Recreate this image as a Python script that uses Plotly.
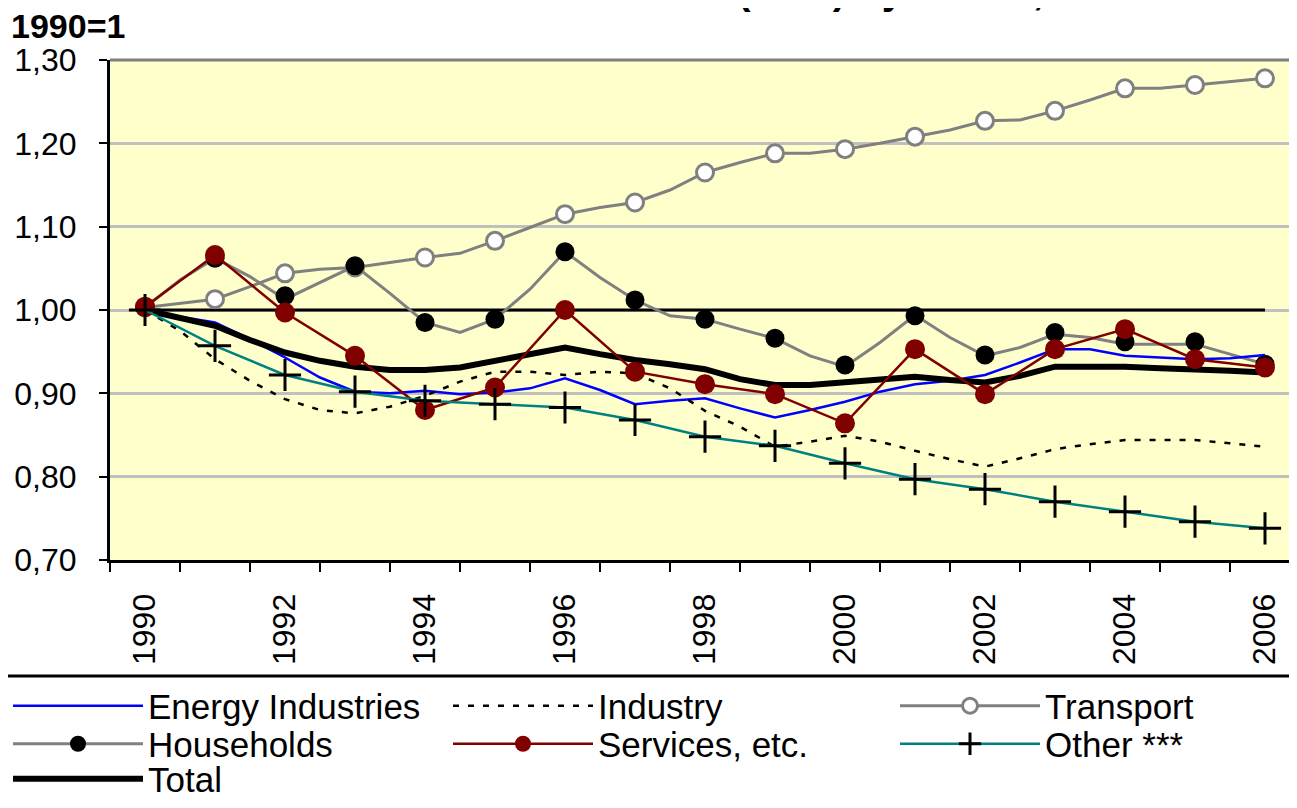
import plotly.graph_objects as go

# ---------------- data ----------------
years = [1990, 1991, 1992, 1993, 1994, 1995, 1996, 1997, 1998, 1999,
         2000, 2001, 2002, 2003, 2004, 2005, 2006]
half_years = [1990.0, 1990.5, 1991.0, 1991.5, 1992.0, 1992.5, 1993.0, 1993.5,
              1994.0, 1994.5, 1995.0, 1995.5, 1996.0, 1996.5, 1997.0, 1997.5,
              1998.0, 1998.5, 1999.0, 1999.5, 2000.0, 2000.5, 2001.0, 2001.5,
              2002.0, 2002.5, 2003.0, 2003.5, 2004.0, 2004.5, 2005.0, 2005.5,
              2006.0]
tick_years = [1990, 1992, 1994, 1996, 1998, 2000, 2002, 2004, 2006]
tick_labels = ["1990", "1992", "1994", "1996", "1998", "2000", "2002", "2004", "2006"]

baseline = [1.00, 1.00, 1.00, 1.00, 1.00, 1.00, 1.00, 1.00, 1.00,
            1.00, 1.00, 1.00, 1.00, 1.00, 1.00, 1.00, 1.00]

energy_line = [1.000, 0.992, 0.985, 0.965, 0.943, 0.919, 0.902, 0.900, 0.903, 0.899,
               0.901, 0.906, 0.918, 0.904, 0.887, 0.891, 0.894, 0.882, 0.871, 0.880,
               0.890, 0.902, 0.911, 0.915, 0.922, 0.937, 0.953, 0.953, 0.945, 0.943,
               0.941, 0.942, 0.946]
industry_line = [1.000, 0.975, 0.941, 0.915, 0.893, 0.880, 0.876, 0.884, 0.897, 0.914,
                 0.926, 0.926, 0.922, 0.926, 0.924, 0.906, 0.879, 0.860, 0.836, 0.842,
                 0.849, 0.842, 0.831, 0.821, 0.812, 0.822, 0.833, 0.839, 0.844, 0.844,
                 0.844, 0.840, 0.836]
transport_line = [1.003, 1.008, 1.013, 1.028, 1.044, 1.049, 1.051, 1.057, 1.063, 1.068,
                  1.083, 1.099, 1.115, 1.123, 1.129, 1.144, 1.165, 1.177, 1.188, 1.188,
                  1.193, 1.200, 1.208, 1.216, 1.227, 1.228, 1.239, 1.252, 1.266, 1.266,
                  1.270, 1.274, 1.278]
transport_pts = [1.003, 1.013, 1.044, 1.051, 1.063, 1.083, 1.115, 1.129, 1.165, 1.188,
                 1.193, 1.208, 1.227, 1.239, 1.266, 1.270, 1.278]
households_line = [1.003, 1.036, 1.062, 1.040, 1.013, 1.033, 1.053, 1.020, 0.985, 0.973,
                   0.989, 1.025, 1.070, 1.039, 1.012, 0.993, 0.989, 0.977, 0.966, 0.945,
                   0.932, 0.961, 0.994, 0.967, 0.945, 0.955, 0.971, 0.967, 0.959, 0.959,
                   0.959, 0.947, 0.935]
households_pts = [1.003, 1.062, 1.017, 1.053, 0.985, 0.989, 1.070, 1.012, 0.989, 0.966,
                  0.934, 0.993, 0.946, 0.973, 0.962, 0.962, 0.935]
services = [1.004, 1.066, 0.997, 0.945, 0.880, 0.907, 1.000, 0.926, 0.911, 0.899,
            0.864, 0.953, 0.899, 0.953, 0.977, 0.941, 0.931]
other = [1.000, 0.957, 0.922, 0.902, 0.891, 0.887, 0.883, 0.868, 0.848, 0.837,
         0.816, 0.797, 0.785, 0.770, 0.758, 0.746, 0.738]
total_line = [1.000, 0.991, 0.981, 0.964, 0.949, 0.939, 0.932, 0.928, 0.928, 0.931,
              0.939, 0.947, 0.955, 0.947, 0.940, 0.935, 0.929, 0.917, 0.910, 0.910,
              0.913, 0.917, 0.920, 0.916, 0.913, 0.921, 0.932, 0.932, 0.932, 0.930,
              0.929, 0.927, 0.925]

# ---------------- geometry (page pixels) ----------------
FONT = "Liberation Sans, Arial, sans-serif"
OFF = 8                     # default body margin of the html page
PAGE_W, PAGE_H = 1297, 808
W, H = PAGE_W - OFF, PAGE_H - OFF
PLOT_L, PLOT_T, PLOT_B = 110, 60, 560
ML, MT, MR = PLOT_L - OFF, PLOT_T - OFF, 0
PW = W - ML - MR
PH = PLOT_B - PLOT_T
MB = H - MT - PH
PX_PER_YEAR = 70.0


def paper_x(px):
    return (px - PLOT_L) / PW


def paper_y(py):
    return (PLOT_B - py) / PH


def cont_y(py):
    return 1 - (py - OFF) / H


BLUE = "#0000FF"
GRAY = "#808080"
DARKRED = "#800000"
TEAL = "#008080"

fig = go.Figure()

# 1990 = 1 reference line
fig.add_trace(go.Scatter(x=years, y=baseline, mode="lines",
                         line=dict(color="black", width=3), showlegend=False))

# Transport
fig.add_trace(go.Scatter(x=half_years, y=transport_line, mode="lines",
                         line=dict(color=GRAY, width=3), showlegend=False))
fig.add_trace(go.Scatter(x=years, y=transport_pts, mode="markers",
                         marker=dict(color="white", size=17, line=dict(color=GRAY, width=3)),
                         showlegend=False))
# Households
fig.add_trace(go.Scatter(x=half_years, y=households_line, mode="lines",
                         line=dict(color=GRAY, width=3), showlegend=False))
fig.add_trace(go.Scatter(x=years, y=households_pts, mode="markers",
                         marker=dict(color="black", size=19), showlegend=False))
# Energy industries
fig.add_trace(go.Scatter(x=half_years, y=energy_line, mode="lines", name="Energy Industries",
                         line=dict(color=BLUE, width=2.5), legend="legend"))
# Industry
fig.add_trace(go.Scatter(x=half_years, y=industry_line, mode="lines", name="Industry",
                         line=dict(color="black", width=2.5, dash="6px,9px"), legend="legend2"))
# Total
fig.add_trace(go.Scatter(x=half_years, y=total_line, mode="lines", name="Total",
                         line=dict(color="black", width=6), legend="legend7"))
# Services
fig.add_trace(go.Scatter(x=years, y=services, mode="lines+markers", name="Services, etc.",
                         line=dict(color=DARKRED, width=2.5),
                         marker=dict(color=DARKRED, size=20), legend="legend5"))
# Other
fig.add_trace(go.Scatter(x=years, y=other, mode="lines+markers", name="Other ***",
                         line=dict(color=TEAL, width=2.5),
                         marker=dict(symbol="cross-thin", size=23, color="black",
                                     line=dict(color="black", width=3)),
                         legend="legend6"))

# legend entries for the two series drawn as line + separate markers
fig.add_trace(go.Scatter(x=[None], y=[None], mode="lines+markers", name="Transport",
                         line=dict(color=GRAY, width=3),
                         marker=dict(color="white", size=15, line=dict(color=GRAY, width=3)),
                         legend="legend3"))
fig.add_trace(go.Scatter(x=[None], y=[None], mode="lines+markers", name="Households",
                         line=dict(color=GRAY, width=3),
                         marker=dict(color="black", size=16),
                         legend="legend4"))

# ---------------- layout ----------------
LEG_FONT = dict(family=FONT, size=35, color="black")
text_x = [148, 598, 1045]
row_y = [706, 744, 779]


def leg(col, ry):
    if col == 0:
        itemw, lx = 130, 0                      # flush with the left edge
    else:
        itemw = 140
        lx = text_x[col] - itemw - 10 - OFF     # label starts at text_x
    return dict(x=lx / W, xref="container", xanchor="left",
                y=cont_y(ry), yref="container", yanchor="middle",
                orientation="h", font=LEG_FONT, itemwidth=itemw,
                bgcolor="rgba(0,0,0,0)", borderwidth=0, itemclick=False)


fig.update_layout(
    width=W, height=H,
    margin=dict(l=ML, r=MR, t=MT, b=MB, pad=0),
    paper_bgcolor="white",
    plot_bgcolor="#FFFFCC",
    separators=", ",
    font=dict(family=FONT, color="black"),
    xaxis=dict(
        type="linear",
        range=[1989.5, 1989.5 + PW / PX_PER_YEAR],
        tickmode="array", tickvals=tick_years, ticktext=tick_labels,
        tickangle=-90, ticks="", showgrid=False, zeroline=False,
        showline=True, linecolor="black", linewidth=3,
        tickfont=dict(family=FONT, size=32, color="black"),
        ticklabelstandoff=18,
        minor=dict(ticks="outside", tickvals=[1989.5 + i for i in range(18)],
                   ticklen=9, tickwidth=2, tickcolor="black", showgrid=False),
    ),
    yaxis=dict(
        range=[0.70, 1.30], dtick=0.10, tick0=0.70, tickformat=".2f",
        showgrid=True, gridcolor="#C0C0C0", gridwidth=3, zeroline=False,
        showline=True, linecolor="black", linewidth=3,
        ticks="outside", ticklen=8, tickwidth=2, tickcolor="black",
        tickfont=dict(family=FONT, size=32, color="black"),
        ticklabelstandoff=16,
    ),
    legend=leg(0, row_y[0]),
    legend2=leg(1, row_y[0]),
    legend3=leg(2, row_y[0]),
    legend4=leg(0, row_y[1]),
    legend5=leg(1, row_y[1]),
    legend6=leg(2, row_y[1]),
    legend7=leg(0, row_y[2]),
    hovermode=False,
)

# top border of the plot area and separator above the legend
fig.add_shape(type="line", xref="paper", yref="paper", x0=0, x1=1, y0=1, y1=1,
              line=dict(color=GRAY, width=3))
fig.add_shape(type="line", xref="paper", yref="paper", x0=paper_x(0), x1=1,
              y0=paper_y(676), y1=paper_y(676),
              line=dict(color="black", width=3))

# unit label and (cropped at the top, as in the source) title
fig.add_annotation(text="<b>1990=1</b>", xref="paper", yref="paper",
                   x=paper_x(9), y=paper_y(26), xanchor="left", yanchor="middle",
                   showarrow=False, font=dict(family=FONT, size=34, color="black"))
fig.add_annotation(text="<b>Emissions (CO2) by sector, 1990-2006</b>", xref="paper", yref="paper",
                   x=paper_x(524), y=paper_y(-10), xanchor="left", yanchor="middle",
                   showarrow=False, font=dict(family=FONT, size=40, color="black"))

fig.write_html("out.html")
